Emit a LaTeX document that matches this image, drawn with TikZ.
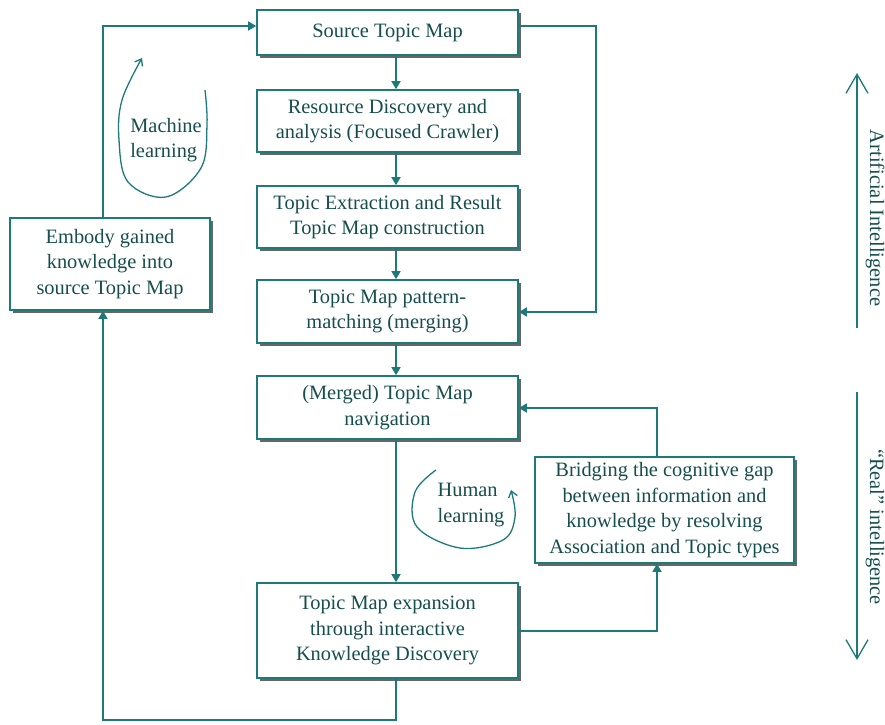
\documentclass[tikz,border=0pt]{standalone}
\usepackage{fontspec}
\setmainfont{Liberation Serif}
\usetikzlibrary{arrows.meta,shadows}
\definecolor{ink}{RGB}{22,78,78}
\definecolor{wire}{RGB}{28,122,122}
\begin{document}
\begin{tikzpicture}[x=1pt,y=-1pt,
  every node/.style={text=ink,font=\fontsize{20.4}{25.5}\selectfont},
  stepbox/.style={draw=wire,line width=1.6pt,fill=white,inner sep=0pt,align=center,
    minimum width=261pt,
    drop shadow={shadow xshift=2.5pt,shadow yshift=-2.5pt,fill=black!60,opacity=1}},
  link/.style={draw=wire,line width=1.4pt,-{Triangle[length=8pt,width=9pt]}},
  curl/.style={draw=wire,line width=1.3pt,-{Straight Barb[length=6pt,width=9pt]}},
  scale arrow/.style={draw=wire,line width=1.3pt,-{Straight Barb[length=19pt,width=22pt]}},
  side/.style={rotate=-90,inner sep=0pt}]
\useasboundingbox (0,0) rectangle (885,724);

% main column of steps
\node[stepbox,minimum height=45pt] (src) at (387.5,32.5) {Source Topic Map};
\node[stepbox,minimum height=62pt] (res) at (387.5,121) {Resource Discovery and\\analysis (Focused Crawler)};
\node[stepbox,minimum height=62pt] (ext) at (387.5,217) {Topic Extraction and Result\\Topic Map construction};
\node[stepbox,minimum height=63pt] (pat) at (387.5,311.5) {Topic Map pattern-\\matching (merging)};
\node[stepbox,minimum height=63pt] (mer) at (387.5,407.5) {(Merged) Topic Map\\navigation};
\node[stepbox,minimum height=95pt] (exp) at (387.5,630.5) {Topic Map expansion\\through interactive\\Knowledge Discovery};

% side boxes
\node[stepbox,minimum width=259pt,minimum height=106pt] (brg) at (664.5,510)
  {Bridging the cognitive gap\\between information and\\knowledge by resolving\\Association and Topic types};
\node[stepbox,minimum width=200pt,minimum height=92pt] (emb) at (110,264)
  {Embody gained\\knowledge into\\source Topic Map};

% routing guides
\coordinate (ax) at (396,0);
\coordinate (rl) at (596,0);
\coordinate (ll) at (103,0);
\coordinate (bl) at (657,0);
\coordinate (yt) at (0,26);
\coordinate (yp) at (0,312);
\coordinate (ym) at (0,408);
\coordinate (ye) at (0,631);
\coordinate (yb) at (0,720);

% downward flow
\draw[link] (src.south -| ax) -- (res.north -| ax);
\draw[link] (res.south -| ax) -- (ext.north -| ax);
\draw[link] (ext.south -| ax) -- (pat.north -| ax);
\draw[link] (pat.south -| ax) -- (mer.north -| ax);
\draw[link] (mer.south -| ax) -- (exp.north -| ax);

% source map fed straight into merging
\draw[link] (src.east |- yt) -| (rl |- yp) -- (pat.east |- yp);

% learning loop back to the source map
\draw[link] (exp.south -| ax) |- (ll |- yb) -- (emb.south -| ll);
\draw[link] (emb.north -| ll) |- (src.west |- yt);

% human learning loop
\draw[link] (exp.east |- ye) -| (brg.south -| bl);
\draw[link] (brg.north -| bl) |- (mer.east |- ym);

% learning curls
\draw[curl] plot[smooth,tension=0.6] coordinates
  {(205,90) (207,125) (201,168) (166,197) (128,182) (119,140) (122,100) (142,58)};
\node[align=left] (ml) at (166,140) {Machine\\learning};

\draw[curl] plot[smooth,tension=0.6] coordinates
  {(436,470) (415,492) (417,527) (460,548) (503,540) (515,517) (511,490)};
\node[align=left] (hl) at (471,505) {Human\\learning};

% intelligence scale
\coordinate (aitop) at (857,73);
\coordinate (aibot) at (857,328);
\coordinate (ritop) at (857,392);
\coordinate (ribot) at (857,660);
\draw[scale arrow] (aibot) -- (aitop);
\draw[scale arrow] (ritop) -- (ribot);
\node[side] (ai) at (875,218) {Artificial Intelligence};
\node[side] (ri) at (875,527) {“Real” intelligence};
\end{tikzpicture}
\end{document}
